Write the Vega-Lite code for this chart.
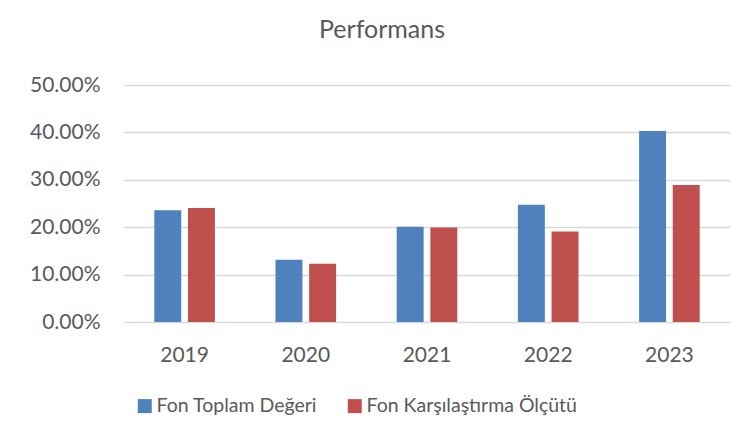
{
  "$schema": "https://vega.github.io/schema/vega-lite/v6.json",
  "autosize": {"type": "none"},
  "width": 606,
  "height": 237,
  "padding": {"left": 124, "top": 85, "right": 21, "bottom": 121},
  "background": "white",
  "title": {
    "text": "Performans",
    "font": "Lato",
    "fontSize": 25,
    "fontWeight": "normal",
    "color": "#595959",
    "baseline": "alphabetic",
    "anchor": "middle",
    "offset": 11,
    "dx": -45
  },
  "data": {
    "values": [
      {"year": "2019", "series": "Fon Toplam Değeri", "value": 0.236},
      {"year": "2019", "series": "Fon Karşılaştırma Ölçütü", "value": 0.2405},
      {"year": "2020", "series": "Fon Toplam Değeri", "value": 0.1314},
      {"year": "2020", "series": "Fon Karşılaştırma Ölçütü", "value": 0.123},
      {"year": "2021", "series": "Fon Toplam Değeri", "value": 0.201},
      {"year": "2021", "series": "Fon Karşılaştırma Ölçütü", "value": 0.1996},
      {"year": "2022", "series": "Fon Toplam Değeri", "value": 0.2475},
      {"year": "2022", "series": "Fon Karşılaştırma Ölçütü", "value": 0.191},
      {"year": "2023", "series": "Fon Toplam Değeri", "value": 0.403},
      {"year": "2023", "series": "Fon Karşılaştırma Ölçütü", "value": 0.289}
    ]
  },
  "mark": {"type": "bar"},
  "encoding": {
    "x": {
      "field": "year",
      "type": "nominal",
      "scale": {"paddingInner": 0.5, "paddingOuter": 0.25},
      "axis": {
        "title": null,
        "labelAngle": 0,
        "labelFont": "Lato",
        "labelFontSize": 21,
        "labelColor": "#595959",
        "labelPadding": 22,
        "ticks": false,
        "domain": false,
        "grid": false
      }
    },
    "xOffset": {
      "field": "series",
      "type": "nominal",
      "sort": ["Fon Toplam Değeri", "Fon Karşılaştırma Ölçütü"],
      "scale": {"paddingInner": 0.2, "paddingOuter": 0}
    },
    "y": {
      "field": "value",
      "type": "quantitative",
      "scale": {"domain": [0, 0.5], "nice": false},
      "axis": {
        "title": null,
        "values": [0, 0.1, 0.2, 0.3, 0.4, 0.5],
        "format": ".2%",
        "labelFont": "Lato",
        "labelFontSize": 21,
        "labelColor": "#595959",
        "labelPadding": 24,
        "ticks": false,
        "domain": false,
        "grid": true,
        "gridColor": "#D9D9D9",
        "gridWidth": 1.3
      }
    },
    "color": {
      "field": "series",
      "type": "nominal",
      "sort": ["Fon Toplam Değeri", "Fon Karşılaştırma Ölçütü"],
      "scale": {"range": ["#4F81BD", "#C0504D"]},
      "legend": {
        "title": null,
        "orient": "none",
        "direction": "horizontal",
        "legendX": 11,
        "legendY": 311,
        "symbolType": "square",
        "symbolSize": 196,
        "symbolStrokeWidth": 0,
        "symbolOpacity": 1,
        "labelFont": "Lato",
        "labelFontSize": 19.5,
        "labelColor": "#595959",
        "labelOffset": 2,
        "columnPadding": 27,
        "labelLimit": 400
      }
    }
  },
  "config": {
    "view": {"stroke": null}
  }
}
